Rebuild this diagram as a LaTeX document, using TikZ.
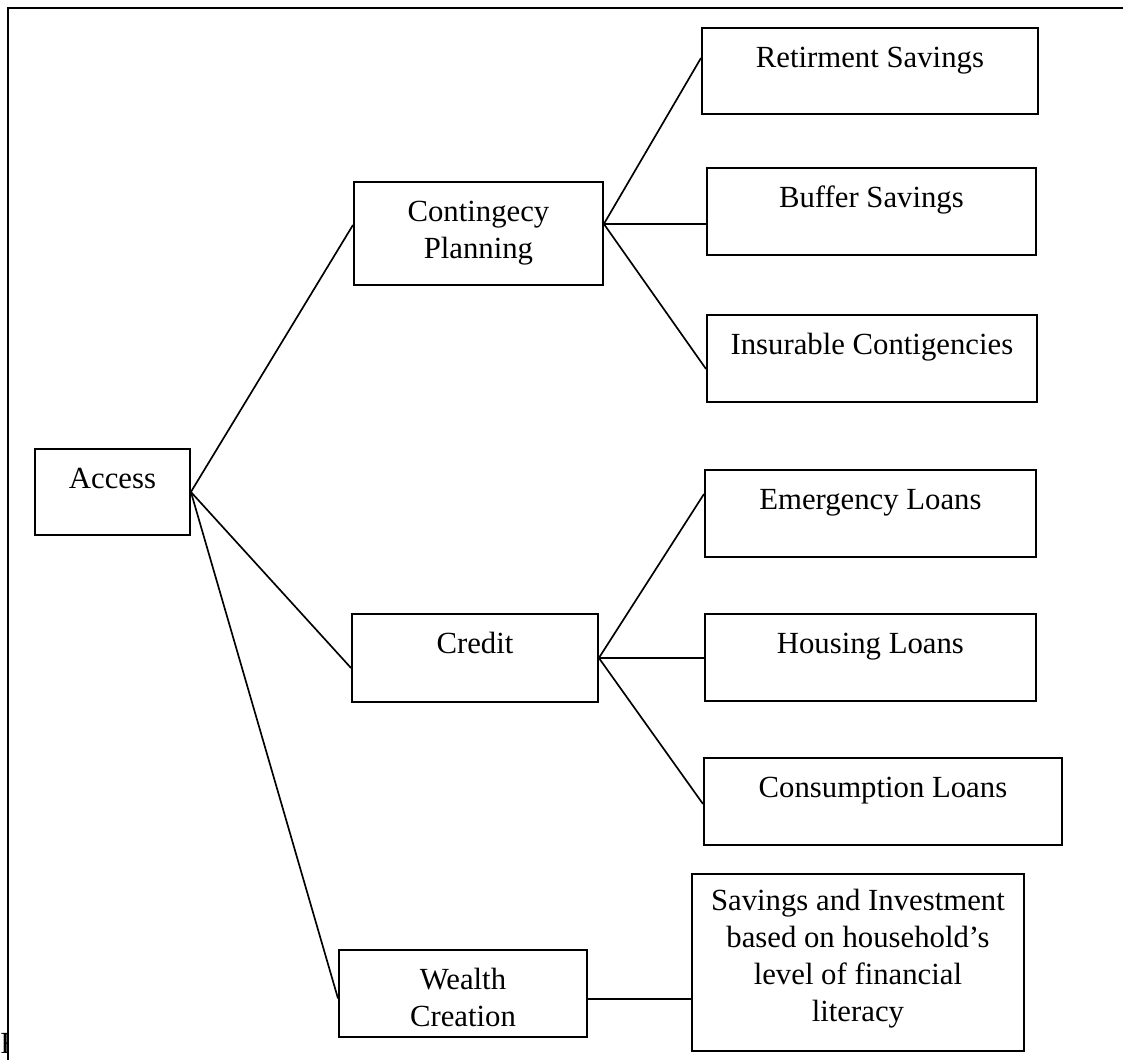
\documentclass[tikz,border=0pt]{standalone}
\usepackage{fontspec}
\setmainfont{Liberation Serif}
\usepackage{tikz}
\usetikzlibrary{calc}

% text of a box, set at its top
\newcommand{\boxlabel}[4][0.8cm]{\parbox[t][#3][t]{#2}{\centering\rule{0pt}{#1}#4}}

\begin{document}
\begin{tikzpicture}[x=0.02cm, y=-0.02cm,
    box/.style={draw, line width=1.1pt, anchor=north west, inner sep=0pt},
    link/.style={line width=0.95pt},
    every node/.style={font=\fontsize{17.5}{21}\selectfont}]

            \useasboundingbox (0,0) rectangle (1123,1059);

            % rahmen
            \draw[line width=1.4pt] (8,1070) -- (8,8) -- (1135,8);

            % wurzel
            \node[box] (access) at (34,448) {\boxlabel{3.10cm}{1.72cm}{Access}};

            % zweite ebene
            \node[box] (contingency) at (353,181) {\boxlabel{4.98cm}{2.06cm}{Contingecy\\Planning}};
            \node[box] (credit) at (351,613) {\boxlabel{4.92cm}{1.76cm}{Credit}};
            \node[box] (wealth) at (338,949) {\boxlabel{4.96cm}{1.74cm}{Wealth\\Creation}};

            % dritte ebene
            \node[box] (retirement) at (701,27) {\boxlabel{6.72cm}{1.72cm}{Retirment Savings}};
            \node[box] (buffer) at (706,167) {\boxlabel{6.58cm}{1.74cm}{Buffer Savings}};
            \node[box] (insurable) at (706,314) {\boxlabel{6.60cm}{1.74cm}{Insurable Contigencies}};
            \node[box] (emergency) at (704,469) {\boxlabel{6.62cm}{1.74cm}{Emergency Loans}};
            \node[box] (housing) at (704,613) {\boxlabel{6.62cm}{1.74cm}{Housing Loans}};
            \node[box] (consumption) at (703,757) {\boxlabel{7.16cm}{1.74cm}{Consumption Loans}};
            \node[box] (savings) at (691,873) {\boxlabel[0.74cm]{6.64cm}{3.54cm}{Savings and Investment\\based on household’s\\level of financial\\literacy}};

            % verzweigungspunkte
            \coordinate (cp) at ([yshift=0.19cm]contingency.east);
            \coordinate (cr) at (credit.east);
            \coordinate (wc) at ([yshift=-0.11cm]wealth.east);

            % linien
            \draw[link] (access.east) -- ([yshift=0.17cm]contingency.west);
            \draw[link] (access.east) -- ([yshift=-0.2cm]credit.west);
            \draw[link] (access.east) -- ([yshift=-0.1cm]wealth.west);

            \draw[link] (cp) -- ([yshift=0.26cm]retirement.west);
            \draw[link] (cp) -- (cp -| buffer.west);
            \draw[link] (cp) -- ([yshift=-0.21cm]insurable.west);

            \draw[link] (cr) -- ([yshift=0.39cm]emergency.west);
            \draw[link] (cr) -- (cr -| housing.west);
            \draw[link] (cr) -- ([yshift=-0.05cm]consumption.west);

            \draw[link] (wc) -- (wc -| savings.west);

            % abgeschnittener buchstabe
            \begin{scope}
            \clip (0,1000) rectangle (7,1059);
            \node[anchor=base west, inner sep=0pt] (stray) at (0,1053) {F};
            \end{scope}

\end{tikzpicture}
\end{document}
